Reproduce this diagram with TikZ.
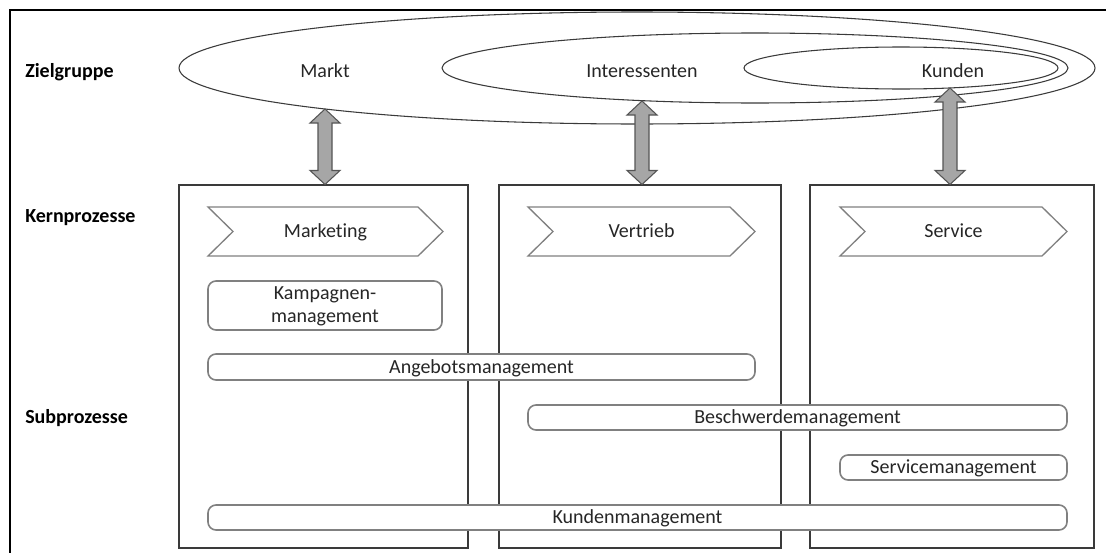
\documentclass[tikz,border=0pt]{standalone}
\usepackage{fontspec}
\setmainfont{Carlito}[Ligatures=NoCommon]
\usetikzlibrary{shapes.geometric,fit,calc}

\definecolor{inkdark}{HTML}{262626}
\definecolor{linedark}{HTML}{3A3A3A}
\definecolor{linegray}{HTML}{808080}
\definecolor{arrowfill}{HTML}{A6A6A6}
\definecolor{arrowline}{HTML}{555555}

\tikzset{
  txt/.style={font=\fontsize{15}{18}\selectfont, text=inkdark, inner sep=0pt,
              text height=9.7pt, text depth=0pt},
  txttwo/.style={font=\fontsize{15}{17}\selectfont, text=inkdark, inner sep=0pt,
              align=center},
  rowlabel/.style={font=\fontsize{15}{18}\selectfont\bfseries, text=black, anchor=west,
              inner sep=0pt, text height=9.7pt, text depth=0pt},
  group/.style={ellipse, draw=linedark, line width=0.8pt, inner sep=0pt},
  colbox/.style={draw=linedark, line width=0.8pt, inner sep=0pt},
  subbox/.style={draw=linegray, fill=white, line width=1.2pt, rounded corners=6pt, inner sep=0pt},
  chevline/.style={draw=linegray, line width=1pt, line join=miter},
  blockarrow/.style={fill=arrowfill, draw=arrowline, line width=0.8pt, line join=miter}
}

% vertical double block arrow between two named points (top tip, bottom tip)
\newcommand\dblarrow[2]{%
  \path[blockarrow] let \p1=(#1), \p2=(#2) in
    (\x1,\y1) -- (\x1+11.25pt,\y1-10.5pt) -- (\x1+5.25pt,\y1-10.5pt)
    -- (\x1+5.25pt,\y2+10.5pt) -- (\x1+11.25pt,\y2+10.5pt) -- (\x1,\y2)
    -- (\x1-11.25pt,\y2+10.5pt) -- (\x1-5.25pt,\y2+10.5pt)
    -- (\x1-5.25pt,\y1-10.5pt) -- (\x1-11.25pt,\y1-10.5pt) -- cycle;}

% process chevron: left x, right tip x, top y, bottom y, name, text
\newcommand\chevron[6]{%
  \draw[chevline] (#1,#3) -- ({#2-25},#3) -- (#2,{(#3+#4)/2}) -- ({#2-25},#4)
    -- (#1,#4) -- ({#1+25},{(#3+#4)/2}) -- cycle;
  \node[txt] (#5) at ({(#1+#2)/2},{(#3+#4)/2}) {#6};}

% rounded sub process box with centred text: corner, corner, name, text
\newcommand\subproc[4]{%
  \node[subbox, fit={#1 #2}] (#3) {};
  \node[txt] (#3-text) at (#3.center) {#4};}

\begin{document}
\begin{tikzpicture}[x=0.75pt, y=-0.75pt]
  \useasboundingbox (0,0) rectangle (1106,553);
  \clip (0,0) rectangle (1106,553);

  % outer frame
  \draw[line width=1.6pt, black] (10,600) -- (10,10) -- (1150,10);

  % row labels
  \node[rowlabel] (lblziel) at (25,71) {Zielgruppe};
  \node[rowlabel] (lblkern) at (25,216) {Kernprozesse};
  \node[rowlabel] (lblsub)  at (25,417) {Subprozesse};

  % target groups
  \node[group, minimum width=916*0.75pt, minimum height=112*0.75pt] (markt) at (637,68) {};
  \node[group, minimum width=626*0.75pt, minimum height=70*0.75pt] (interessenten) at (755,68) {};
  \node[group, minimum width=314*0.75pt, minimum height=42*0.75pt] (kunden) at (901,68) {};
  \node[txt] (tmarkt) at (325,71) {Markt};
  \node[txt] (tinter) at (642,71) {Interessenten};
  \node[txt] (tkunden) at (953,71) {Kunden};

  % process columns
  \node[colbox, fit={(179,185) (468,548)}] (col1) {};
  \node[colbox, fit={(499,185) (781,548)}] (col2) {};
  \node[colbox, fit={(810,185) (1094,548)}] (col3) {};

  % links between target groups and columns
  \coordinate (a1) at (325,109);
  \coordinate (a2) at (642,101);
  \coordinate (a3) at (950,88);
  \dblarrow{a1}{a1 |- col1.north}
  \dblarrow{a2}{a2 |- col2.north}
  \dblarrow{a3}{a3 |- col3.north}

  % core processes
  \chevron{208}{443}{207}{256}{marketing}{Marketing}
  \chevron{528}{755}{207}{256}{vertrieb}{Vertrieb}
  \chevron{840}{1067}{207}{256}{service}{Service}

  % sub processes
  \node[subbox, fit={(208,281) (442,330)}] (kampagne) {};
  \node[txttwo] (kampagne-text) at ($(kampagne.center)+(0,1)$) {Kampagnen-\\management};
  \subproc{(208,354)}{(755,380)}{angebot}{Angebotsmanagement}
  \subproc{(528,405)}{(1067,430)}{beschwerde}{Beschwerdemanagement}
  \subproc{(840,455)}{(1067,480)}{servicemgmt}{Servicemanagement}
  \subproc{(208,505)}{(1067,530)}{kundenmgmt}{Kundenmanagement}
\end{tikzpicture}
\end{document}
